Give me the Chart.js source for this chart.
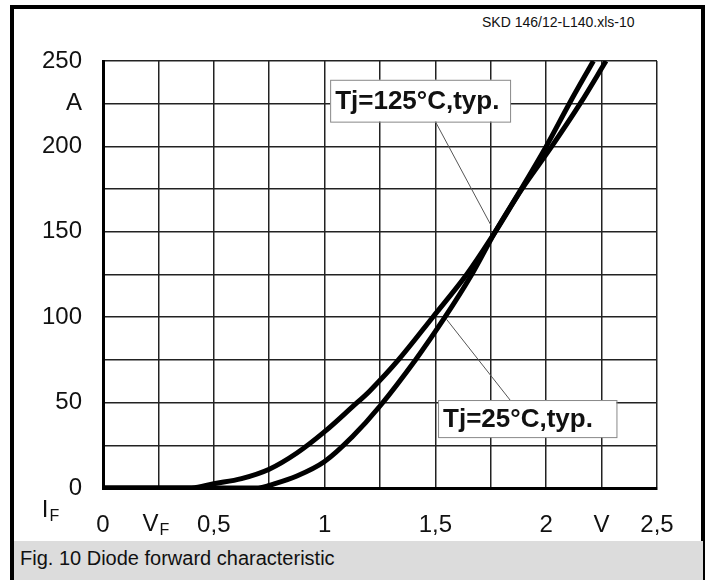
<!DOCTYPE html>
<html>
<head>
<meta charset="utf-8">
<title>Diode forward characteristic</title>
<script src="https://cdn.jsdelivr.net/npm/chart.js@4.4.0/dist/chart.umd.min.js"></script>
<style>
  body { margin: 0; background: #fff; }
  #wrap { position: relative; width: 712px; height: 580px; overflow: hidden; font-family: 'Liberation Sans', Arial, sans-serif; }
  #frame { position: absolute; left: 10px; top: 5px; width: 695px; height: 575px; box-sizing: border-box; border: 4px solid #000; border-bottom: none; }
  #band { position: absolute; left: 14px; top: 541px; width: 689px; height: 39px; background: #dcdcdc; }
  #caption { position: absolute; left: 20px; top: 546px; font-size: 20px; line-height: 24px; color: #111; }
  #code { position: absolute; left: 482px; top: 14px; font-size: 14px; line-height: 16px; color: #111; }
  canvas { position: absolute; left: 0; top: 0; }
</style>
</head>
<body>
<div id="wrap">
  <div id="frame"></div>
  <div id="band"></div>
  <div id="caption">Fig. 10 Diode forward characteristic</div>
  <div id="code">SKD 146/12-L140.xls-10</div>
  <canvas id="chart" width="712" height="580"></canvas>
</div>
<script>
// forward voltage (V) / forward current (A)
const voltsHot = [0, 0.40, 0.50, 0.625, 0.75, 0.875, 1.0, 1.125, 1.205, 1.333, 1.488, 1.641, 1.77, 1.89, 2.025, 2.153, 2.27];
const ampsHot  = [0, 0, 2.5, 5.5, 11, 20.5, 33, 47.5, 57, 75, 100, 125, 150, 175, 200, 225, 250];

const voltsCold = [0, 0.70, 0.75, 0.875, 1.0, 1.125, 1.25, 1.41, 1.543, 1.664, 1.77, 1.887, 2.00, 2.104, 2.213];
const ampsCold  = [0, 0, 1.5, 7, 15.5, 30, 48, 75, 100, 125, 150, 175, 200, 225, 250];

const xTickLabels = ['0', '', '0,5', '', '1', '', '1,5', '', '2', 'V', '2,5'];
const yTickLabels = ['0', '', '50', '', '100', '', '150', '', '200', 'A', '250'];

const seriesNames = ['Tj=125°C,typ.', 'Tj=25°C,typ.'];

const FONT = "'Liberation Sans', Arial, sans-serif";

function toPoints(xs, ys) {
    return xs.map((x, i) => ({ x: x, y: ys[i] }));
}

// label boxes with leader lines, anchored in data units
const callouts = [
    { text: seriesNames[0], box: [1.025, 1.837, 239, 214.5], from: [1.50, 214.5], to: [1.75, 154] },
    { text: seriesNames[1], box: [1.512, 2.317, 51.5, 29.8], from: [1.837, 51.5], to: [1.55, 98.8] }
];

const calloutPlugin = {
    id: 'callouts',
    afterDatasetsDraw(chart) {
        const ctx = chart.ctx;
        const xs = chart.scales.x, ys = chart.scales.y;
        ctx.save();
        callouts.forEach(c => {
            ctx.strokeStyle = '#555';
            ctx.lineWidth = 1;
            ctx.beginPath();
            ctx.moveTo(xs.getPixelForValue(c.from[0]), ys.getPixelForValue(c.from[1]));
            ctx.lineTo(xs.getPixelForValue(c.to[0]), ys.getPixelForValue(c.to[1]));
            ctx.stroke();

            const l = xs.getPixelForValue(c.box[0]), r = xs.getPixelForValue(c.box[1]);
            const t = ys.getPixelForValue(c.box[2]), b = ys.getPixelForValue(c.box[3]);
            ctx.fillStyle = '#fff';
            ctx.fillRect(l, t, r - l, b - t);
            ctx.strokeStyle = '#888';
            ctx.strokeRect(l + 0.5, t + 0.5, r - l, b - t);

            ctx.fillStyle = '#111';
            ctx.font = 'bold 26px ' + FONT;
            ctx.textAlign = 'left';
            ctx.textBaseline = 'middle';
            ctx.fillText(c.text, l + 5, (t + b) / 2 + 1);
        });
        ctx.restore();
    },
    afterDraw(chart) {
        // axis symbols with subscripts: I_F and V_F
        const ctx = chart.ctx;
        const area = chart.chartArea;
        ctx.save();
        ctx.fillStyle = '#111';
        ctx.textBaseline = 'middle';
        ctx.textAlign = 'left';
        const drawSub = (main, sub, cx, cy) => {
            ctx.font = '24px ' + FONT;
            const w1 = ctx.measureText(main).width;
            ctx.font = '16px ' + FONT;
            const w2 = ctx.measureText(sub).width;
            const x0 = cx - (w1 + w2) / 2;
            ctx.font = '24px ' + FONT;
            ctx.fillText(main, x0, cy);
            ctx.font = '16px ' + FONT;
            ctx.fillText(sub, x0 + w1 + 1, cy + 7);
        };
        drawSub('I', 'F', area.left - 53, area.bottom + 22);
        drawSub('V', 'F', chart.scales.x.getPixelForValue(0.25) - 3, area.bottom + 36);
        ctx.restore();
    }
};

new Chart(document.getElementById('chart'), {
    type: 'scatter',
    data: {
        datasets: [
            {
                label: seriesNames[0],
                data: toPoints(voltsHot, ampsHot),
                showLine: true,
                borderColor: '#000',
                borderWidth: 5,
                pointRadius: 0,
                tension: 0.35
            },
            {
                label: seriesNames[1],
                data: toPoints(voltsCold, ampsCold),
                showLine: true,
                borderColor: '#000',
                borderWidth: 5,
                pointRadius: 0,
                tension: 0.35
            }
        ]
    },
    options: {
        responsive: false,
        animation: false,
        layout: { padding: { left: 0, top: 61, right: 55, bottom: 32 } },
        plugins: {
            legend: { display: false },
            tooltip: { enabled: false }
        },
        scales: {
            x: {
                type: 'linear',
                min: 0,
                max: 2.5,
                afterFit: s => { s.height = 60; },
                border: { display: true, color: '#000', width: 3 },
                grid: { color: '#222', lineWidth: 1.5, drawTicks: false },
                ticks: {
                    stepSize: 0.25,
                    padding: 23,
                    maxRotation: 0,
                    autoSkip: false,
                    color: '#111',
                    font: { family: FONT, size: 24 },
                    callback: (v, i) => xTickLabels[i]
                }
            },
            y: {
                min: 0,
                max: 250,
                afterFit: s => { s.width = 103; },
                border: { display: true, color: '#000', width: 3 },
                grid: { color: '#222', lineWidth: 1.5, drawTicks: false },
                ticks: {
                    stepSize: 25,
                    padding: 21,
                    autoSkip: false,
                    color: '#111',
                    font: { family: FONT, size: 24 },
                    callback: (v, i) => yTickLabels[i]
                }
            }
        }
    },
    plugins: [calloutPlugin]
});
</script>
</body>
</html>
